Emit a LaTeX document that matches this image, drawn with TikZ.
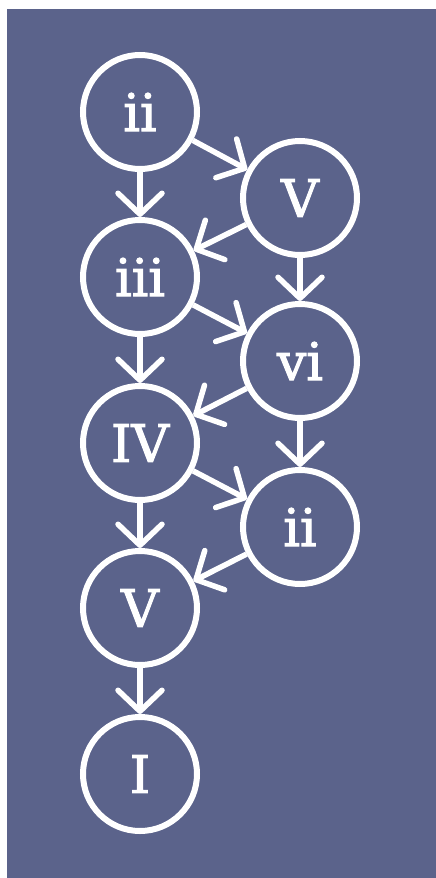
\documentclass[tikz,border=0pt]{standalone}
\usepackage{fontspec}
\setmainfont{DejaVu Serif}
\newfontfamily\chordfont[FakeBold=2]{DejaVu Serif}
\usetikzlibrary{arrows.meta}
\definecolor{bg}{RGB}{91,99,139}
\begin{document}
\begin{tikzpicture}[x=1pt,y=-1pt,
  chord/.style={circle,draw=white,line width=6pt,minimum size=114pt,inner sep=0pt,
    text=white,font=\chordfont\fontsize{52}{52}\selectfont},
  link/.style={draw=white,line width=5.5pt,
    -{Straight Barb[length=21pt,width=44pt,line width=5.5pt,round]}}]
\useasboundingbox (0,0) rectangle (436,878);
\fill[white] (0,0) rectangle (436,878);
\fill[bg] (7,9) rectangle (436,878);
\node[chord] (a) at (140,112) {ii};
\node[chord] (b) at (140,277) {iii};
\node[chord] (c) at (140,443) {IV};
\node[chord] (d) at (140,608) {V};
\node[chord] (e) at (140,774) {I};
\node[chord] (f) at (300,198) {V};
\node[chord] (g) at (300,361) {vi};
\node[chord] (h) at (300,527) {ii};
\draw[link] (a) -- (b);
\draw[link] (b) -- (c);
\draw[link] (c) -- (d);
\draw[link] (d) -- (e);
\draw[link] (a) -- (f);
\draw[link] (f) -- (b);
\draw[link] (b) -- (g);
\draw[link] (g) -- (c);
\draw[link] (c) -- (h);
\draw[link] (h) -- (d);
\draw[link] (f) -- (g);
\draw[link] (g) -- (h);
\end{tikzpicture}
\end{document}
